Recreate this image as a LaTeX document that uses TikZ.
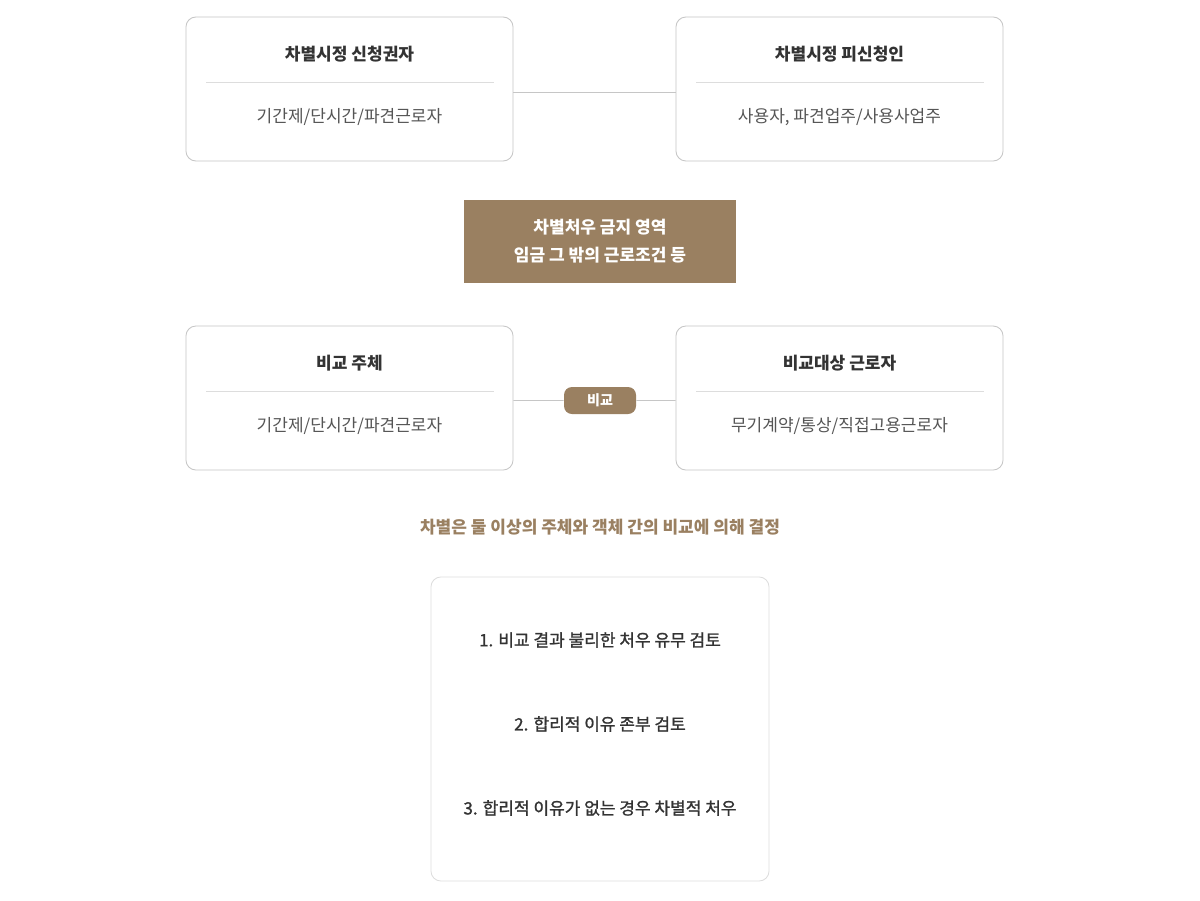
\documentclass[tikz,border=0pt]{standalone}
\usepackage{fontspec}
\setmainfont{Noto Sans CJK KR}
\newfontfamily\medfont{Noto Sans CJK KR}[FakeBold=1.2]
\definecolor{brownfill}{HTML}{9A8061}
\definecolor{boxline}{HTML}{C6C6C6}
\definecolor{sepline}{HTML}{DDDDDD}
\definecolor{titletext}{HTML}{333333}
\definecolor{bodytext}{HTML}{555555}
\tikzset{
  card/.style={draw=boxline, rounded corners=0.25cm, minimum width=8.175cm, minimum height=3.6cm, line width=0.6pt},
  cardtitle/.style={text=titletext, font=\fontsize{12.1}{15}\selectfont\bfseries},
  cardbody/.style={text=bodytext, font=\fontsize{12.1}{15}\selectfont},
  steptext/.style={text=titletext, font=\medfont\fontsize{12.1}{15}\selectfont},
  sep/.style={draw=sepline, line width=0.6pt},
  link/.style={draw=boxline, line width=0.6pt}
}
\begin{document}
\begin{tikzpicture}
		[x=0.025cm, y=-0.025cm, every node/.style={inner sep=0pt}]
		\useasboundingbox[fill=white] (0,0) rectangle (1200,900);
		% top row
		\node[card] (claim) at (349.5,89) {};
		\node[cardtitle] (claimtitle) at (349.5,54) {차별시정 신청권자};
		\draw[sep] (206,82) -- (494,82);
		\node[cardbody] (claimbody) at (349.5,117) {기간제/단시간/파견근로자};
		
		\node[card] (resp) at (839.5,89) {};
		\node[cardtitle] (resptitle) at (839.5,54) {차별시정 피신청인};
		\draw[sep] (696,82) -- (984,82);
		\node[cardbody] (respbody) at (839.5,117) {사용자, 파견업주/사용사업주};
		
		\path[link] ([yshift=-0.075cm]claim.east) edge ([yshift=-0.075cm]resp.west);
		
		% banned area
		\node[fill=brownfill, minimum width=6.8cm, minimum height=2.075cm, align=center,
			text=white, font=\fontsize{12.1}{20}\selectfont\bfseries] (area) at (600,241.5)
			{차별처우 금지 영역\\임금 그 밖의 근로조건 등};
		
		% comparison row
		\node[card] (subj) at (349.5,398) {};
		\node[cardtitle] (subjtitle) at (349.5,363) {비교 주체};
		\draw[sep] (206,391) -- (494,391);
		\node[cardbody] (subjbody) at (349.5,426) {기간제/단시간/파견근로자};
		
		\node[card] (target) at (839.5,398) {};
		\node[cardtitle] (targettitle) at (839.5,363) {비교대상 근로자};
		\draw[sep] (696,391) -- (984,391);
		\node[cardbody] (targetbody) at (839.5,426) {무기계약/통상/직접고용근로자};
		
		\node[fill=brownfill, rounded corners=0.2cm, minimum width=1.8cm, minimum height=0.675cm,
			text=white, font=\fontsize{10}{12}\selectfont\bfseries] (cmp) at (600,400.5) {비교};
		\path[link] ([yshift=-0.0625cm]subj.east) edge (cmp);
		\path[link] (cmp) edge ([yshift=-0.0625cm]target.west);
		
		\node[text=brownfill, font=\fontsize{12.1}{15}\selectfont\bfseries] (note) at (600,527)
			{차별은 둘 이상의 주체와 객체 간의 비교에 의해 결정};
		
		% review steps
		\node[draw=sepline, rounded corners=0.25cm, minimum width=8.45cm, minimum height=7.6cm, line width=0.6pt] (steps) at (600,729) {};
		\node[steptext] (step1) at (600,640) {1. 비교 결과 불리한 처우 유무 검토};
		\node[steptext] (step2) at (600,724) {2. 합리적 이유 존부 검토};
		\node[steptext] (step3) at (600,808) {3. 합리적 이유가 없는 경우 차별적 처우};
\end{tikzpicture}
\end{document}
